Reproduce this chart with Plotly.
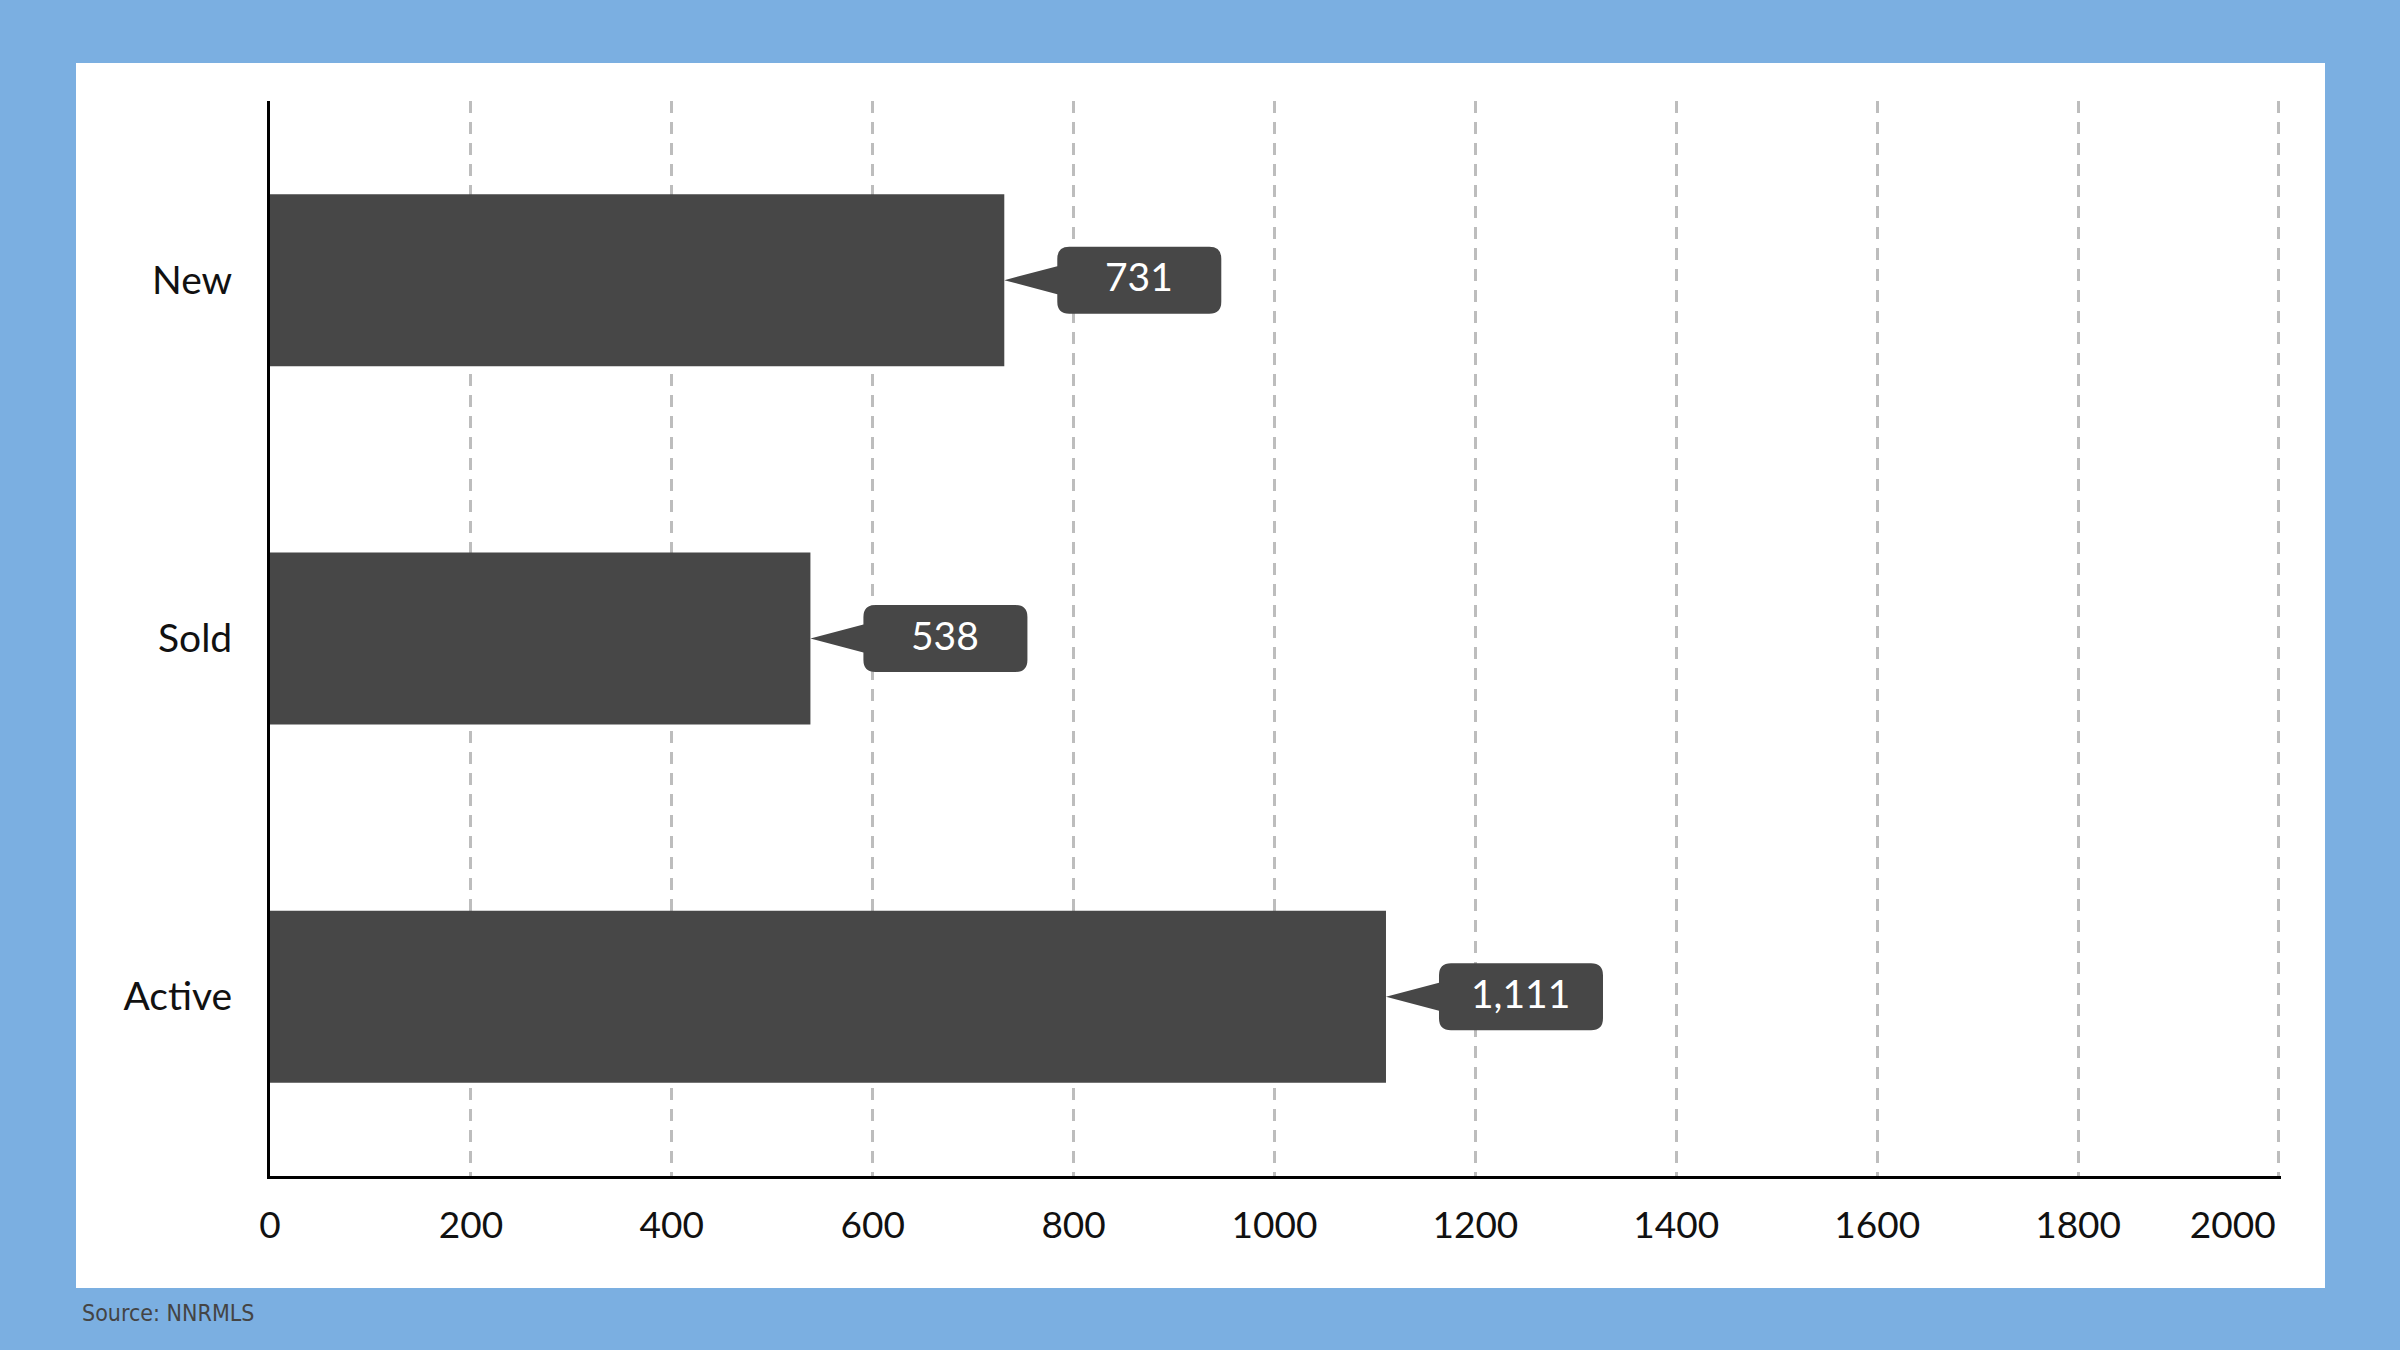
import plotly.graph_objects as go

# listing counts
categories = ["Active", "Sold", "New"]
values = [1111, 538, 731]
x_ticks = [0, 200, 400, 600, 800, 1000, 1200, 1400, 1600, 1800, 2000]
source_text = "Source: NNRMLS"

W, H = 2400, 1350
# plot area in pixels
L, R, T, B = 270, 2281, 101, 1176
pw, ph = R - L, B - T

bar_color = "#474747"

fig = go.Figure()
fig.add_trace(go.Bar(x=values, y=categories, orientation="h",
                     marker=dict(color=bar_color, line=dict(width=0)),
                     hoverinfo="skip"))

# callout bubble: triangle pointer + rounded box, in pixels from bar end
gap, bw, bh, r, tri = 53, 164, 33.5, 12, 14
x0, x1 = gap, gap + bw
callout = (f"M 0 0 L {x0} {-tri} L {x0} {-(bh - r)} Q {x0} {-bh} {x0 + r} {-bh} "
           f"L {x1 - r} {-bh} Q {x1} {-bh} {x1} {-(bh - r)} L {x1} {bh - r} "
           f"Q {x1} {bh} {x1 - r} {bh} L {x0 + r} {bh} Q {x0} {bh} {x0} {bh - r} "
           f"L {x0} {tri} Z")

for cat, v in zip(categories, values):
    fig.add_shape(type="path", path=callout, xref="x", yref="y",
                  xsizemode="pixel", xanchor=v, ysizemode="pixel", yanchor=cat,
                  fillcolor=bar_color, line=dict(width=0), layer="above")
    fig.add_annotation(x=v, y=cat, text=f"{v:,}", showarrow=False,
                       xshift=gap + bw / 2, yshift=4,
                       font=dict(family="Lato", size=39, color="white"))

# white card behind the chart
fig.add_shape(type="rect", xref="paper", yref="paper", layer="below",
              x0=(76 - L) / pw, x1=(2325 - L) / pw,
              y0=-(1288 - B) / ph, y1=1 + (T - 63) / ph,
              fillcolor="white", line=dict(width=0))

fig.add_annotation(xref="paper", yref="paper", x=(80 - L) / pw, y=-(1313 - B) / ph,
                   xanchor="left", yanchor="middle", showarrow=False, text=source_text,
                   font=dict(family="DejaVu Sans Condensed, Liberation Sans Narrow, sans-serif",
                             size=23, color="#444444"))

# last label sits a bit left of its gridline, as in the original
tick_text = [str(t) for t in x_ticks]
tick_text[-1] = tick_text[-1] + "\u2002" * 5

fig.update_xaxes(range=[0, 2002], tickvals=x_ticks, ticktext=tick_text,
                 showgrid=True, gridcolor="#bdbdbd", gridwidth=2.5, griddash="12px,9px",
                 zeroline=False, showline=True, linecolor="black", linewidth=3,
                 ticks="", ticklabelstandoff=15,
                 tickfont=dict(family="Lato", size=37, color="#111111"), fixedrange=True)
fig.update_yaxes(type="category", categoryorder="array", categoryarray=categories,
                 range=[-0.5, 2.5], showgrid=False, zeroline=False,
                 showline=True, linecolor="black", linewidth=3, ticks="",
                 ticklabelstandoff=27,
                 tickfont=dict(family="Lato", size=39, color="#111111"), fixedrange=True)

fig.update_layout(width=W, height=H, autosize=False,
                  margin=dict(l=L, r=W - R, t=T, b=H - B, pad=0),
                  paper_bgcolor="#7bafe1", plot_bgcolor="rgba(0,0,0,0)",
                  bargap=0.52, showlegend=False,
                  font=dict(family="Lato"))

fig.write_html("out.html", config={"displayModeBar": False},
               post_script="document.body.style.margin='0';")
